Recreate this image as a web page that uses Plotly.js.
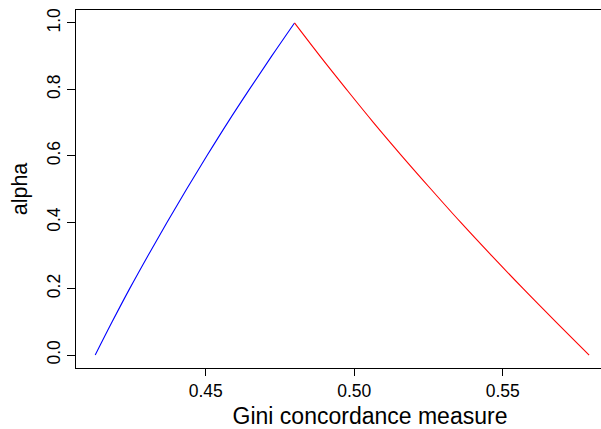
<!DOCTYPE html>
<html>
<head>
<meta charset="utf-8">
<script src="https://cdn.plot.ly/plotly-3.0.1.min.js"></script>
<style>html,body{margin:0;padding:0;background:#fff;overflow:hidden;}#wrap{width:601px;height:429px;overflow:hidden;}#chart{width:664px;height:429px;}</style>
</head>
<body>
<div id="wrap"><div id="chart"></div></div>
<script>
// Left branch (blue): Gini concordance measure vs alpha
var giniLeft  = [0.4128, 0.4185, 0.4244, 0.4306, 0.4370, 0.4436, 0.4504, 0.4574, 0.4647, 0.4722, 0.4799];
var alphaLeft = [0.0, 0.1, 0.2, 0.3, 0.4, 0.5, 0.6, 0.7, 0.8, 0.9, 1.0];
// Right branch (red)
var giniRight  = [0.4799, 0.4885, 0.4974, 0.5065, 0.5160, 0.5258, 0.5358, 0.5462, 0.5569, 0.5679, 0.5791];
var alphaRight = [1.0, 0.9, 0.8, 0.7, 0.6, 0.5, 0.4, 0.3, 0.2, 0.1, 0.0];
var xTicks = [0.45, 0.50, 0.55];
var xTickText = ["0.45", "0.50", "0.55"];
var yTicks = [0, 0.2, 0.4, 0.6, 0.8, 1.0];
var yTickText = ["0.0", "0.2", "0.4", "0.6", "0.8", "1.0"];

var font = "Liberation Sans, Arial, Helvetica, sans-serif";
var traces = [
  {x: giniLeft, y: alphaLeft, mode: "lines", line: {color: "#0000ff", width: 1.1, shape: "spline", smoothing: 1}, hoverinfo: "skip"},
  {x: giniRight, y: alphaRight, mode: "lines", line: {color: "#ff0000", width: 1.1, shape: "spline", smoothing: 1}, hoverinfo: "skip"}
];
var layout = {
  width: 664, height: 429,
  margin: {l: 76, r: 0, t: 10, b: 61, pad: 0},
  paper_bgcolor: "#fff", plot_bgcolor: "#fff",
  showlegend: false,
  font: {family: font, color: "#000", size: 17},
  xaxis: {
    range: [0.40633, 0.60431], tickvals: xTicks, ticktext: xTickText,
    showgrid: false, zeroline: false, showline: true, mirror: true,
    linecolor: "#000", linewidth: 1.3,
    ticks: "outside", ticklen: 7, tickwidth: 1, tickcolor: "#000",
    tickfont: {family: font, size: 17.5, color: "#000"},
    title: {text: "Gini concordance measure", font: {family: font, size: 23, color: "#000"}, standoff: 8}
  },
  yaxis: {
    range: [-0.039, 1.039], tickvals: yTicks, ticktext: yTickText,
    showgrid: false, zeroline: false, showline: true, mirror: false,
    linecolor: "#000", linewidth: 1.3,
    ticks: "outside", ticklen: 8, tickwidth: 1, tickcolor: "#000",
    tickangle: -90,
    tickfont: {family: font, size: 17.5, color: "#000"},
    title: {text: "alpha", font: {family: font, size: 21.5, color: "#000"}, standoff: 10}
  }
};
Plotly.newPlot("chart", traces, layout, {staticPlot: true, displayModeBar: false});
</script>
</body>
</html>
